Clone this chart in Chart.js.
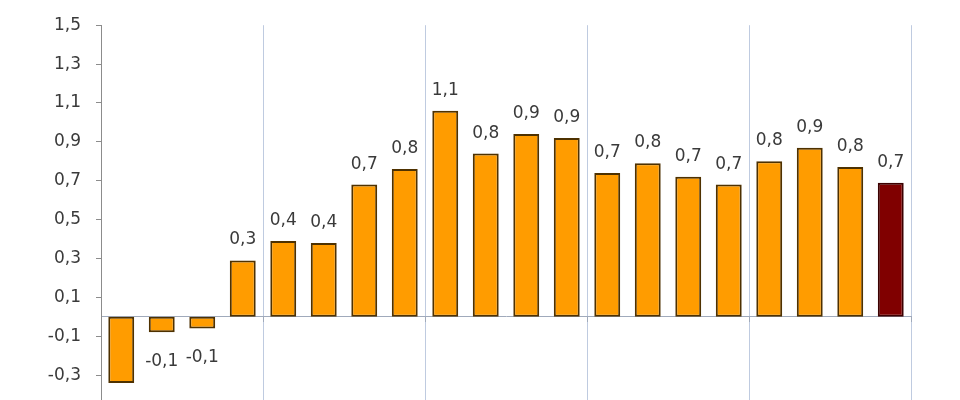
<!DOCTYPE html>
<html>
<head>
<meta charset="utf-8">
<script src="https://cdn.jsdelivr.net/npm/chart.js@4/dist/chart.umd.min.js"></script>
<style>
  html, body { margin: 0; padding: 0; background: #fff; }
  #wrap { width: 960px; height: 400px; overflow: hidden; }
</style>
</head>
<body>
<div id="wrap"><canvas id="chart" width="960" height="440"></canvas></div>
<script>
// quarters, 5 years x 4 (labels are below the visible part)
var quarters = ["I", "II", "III", "IV", "I", "II", "III", "IV", "I", "II",
                "III", "IV", "I", "II", "III", "IV", "I", "II", "III", "IV"];
var values = [-0.34, -0.08, -0.06, 0.29, 0.39, 0.38, 0.68, 0.76, 1.06, 0.84,
              0.94, 0.92, 0.74, 0.79, 0.72, 0.68, 0.80, 0.87, 0.77, 0.69];
var yTicks = [-0.5, -0.3, -0.1, 0.1, 0.3, 0.5, 0.7, 0.9, 1.1, 1.3, 1.5];

function fmt(v) {
    return v.toFixed(1).replace(".", ",");
}

var barColors = values.map(function (v, i) { return i === values.length - 1 ? "#800000" : "#ff9c00"; });
var borderColors = values.map(function (v, i) { return i === values.length - 1 ? "#3c0000" : "#4e3100"; });

// value labels over / under each bar
var barLabels = {
    id: "barLabels",
    afterDatasetsDraw: function (chart) {
        var ctx = chart.ctx;
        var meta = chart.getDatasetMeta(0);
        ctx.save();
        ctx.font = "17px 'DejaVu Sans'";
        ctx.fillStyle = "#3a3a3a";
        ctx.textAlign = "center";
        ctx.textBaseline = "alphabetic";
        meta.data.forEach(function (bar, i) {
            var v = values[i];
            var y = v >= 0 ? bar.y - 16 : bar.y + 34;
            ctx.fillText(fmt(v), bar.x, y);
        });
        ctx.restore();
    }
};

new Chart(document.getElementById("chart").getContext("2d"), {
    type: "bar",
    data: {
        labels: quarters,
        datasets: [{
            data: values,
            backgroundColor: barColors,
            borderColor: borderColors,
            borderWidth: 2,
            borderSkipped: false,
            categoryPercentage: 1,
            barPercentage: 0.64
        }]
    },
    options: {
        responsive: false,
        animation: false,
        layout: { padding: { top: 21, right: 49, bottom: 26, left: 0 } },
        plugins: {
            legend: { display: false },
            tooltip: { enabled: false }
        },
        scales: {
            x: {
                position: { y: 0 },
                ticks: { display: false },
                border: { color: "#a0aabb", width: 1 },
                grid: {
                    offset: true,
                    tickLength: 5,
                    color: function (c) {
                        if (c.index === undefined) return "#bfcbe0";
                        if (c.index === 0) return "rgba(0,0,0,0)";
                        return c.index % 4 === 0 ? "#bfcbe0" : "rgba(0,0,0,0)";
                    },
                    tickColor: function (c) {
                        if (c.index === undefined) return "#a0aabb";
                        return c.index % 4 === 0 ? "#a0aabb" : "rgba(0,0,0,0)";
                    }
                }
            },
            y: {
                min: -0.5,
                max: 1.5,
                afterBuildTicks: function (scale) {
                    scale.ticks = yTicks.map(function (v) { return { value: v }; });
                },
                afterFit: function (scale) { scale.width = 101; },
                border: { color: "#8c8c8c", width: 1 },
                grid: { drawOnChartArea: false, tickLength: 5, tickColor: "#8c8c8c" },
                ticks: {
                    padding: 15,
                    color: "#3a3a3a",
                    font: { family: "'DejaVu Sans'", size: 17 },
                    callback: function (v) { return fmt(v); }
                }
            }
        }
    },
    plugins: [barLabels]
});
</script>
</body>
</html>
